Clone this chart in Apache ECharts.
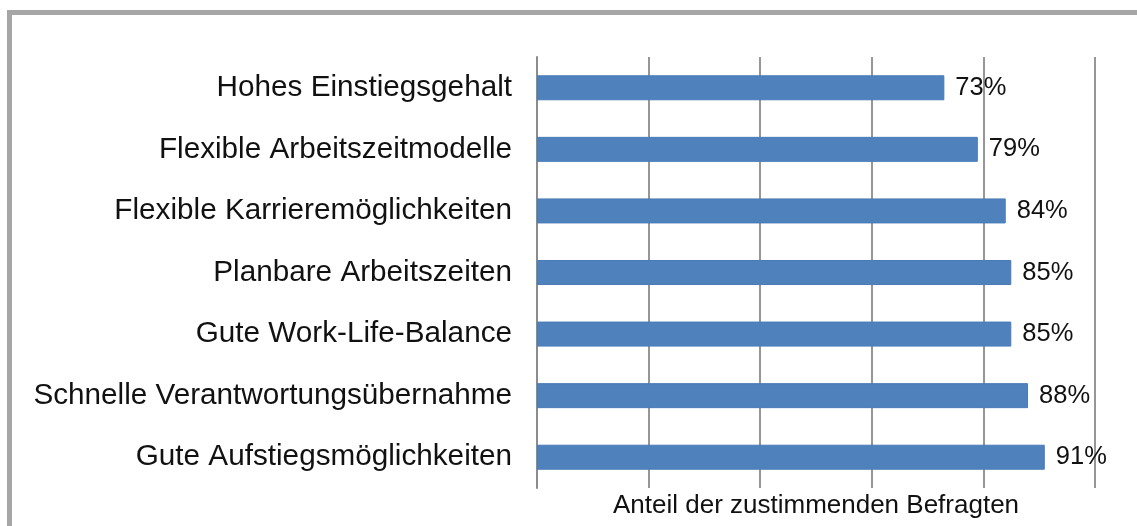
<!DOCTYPE html>
<html lang="de">
<head>
  <meta charset="UTF-8">
  <title>Anteil der zustimmenden Befragten</title>
  <style>
    html, body { margin: 0; padding: 0; background: #fff; }
  </style>
</head>
<body>
  <div id="main" style="width: 1137px;height:526px;"></div>

  <script src="https://cdn.jsdelivr.net/npm/echarts@6/dist/echarts.min.js"></script>
  <script>
    const categories = [
      'Hohes Einstiegsgehalt',
      'Flexible Arbeitszeitmodelle',
      'Flexible Karrieremöglichkeiten',
      'Planbare Arbeitszeiten',
      'Gute Work-Life-Balance',
      'Schnelle Verantwortungsübernahme',
      'Gute Aufstiegsmöglichkeiten'
    ];
    const values = [73, 79, 84, 85, 85, 88, 91];
    const axisName = 'Anteil der zustimmenden Befragten';

    const myChart = echarts.init(document.getElementById('main'));
    const font = "'Liberation Sans', Arial, sans-serif";

    const options = {
      animation: false,
      textStyle: { fontFamily: font },
      graphic: [{
        type: 'rect',
        shape: { x: 9.5, y: 12.5, width: 2000, height: 2000 },
        style: { fill: 'none', stroke: '#a6a6a6', lineWidth: 5 }
      }],
      grid: {
        left: 537,
        right: 42,
        top: 57,
        bottom: 38
      },
      xAxis: {
        type: 'value',
        min: 0,
        max: 100,
        interval: 20,
        name: axisName,
        nameLocation: 'middle',
        nameGap: 5,
        nameTextStyle: { fontSize: 26, color: '#111', fontFamily: font },
        axisLine: { show: false },
        axisTick: { show: false },
        axisLabel: { show: false },
        splitLine: { lineStyle: { color: '#969696', width: 2 } }
      },
      yAxis: {
        type: 'category',
        inverse: true,
        data: categories,
        axisLine: { lineStyle: { color: '#8c8c8c', width: 2 } },
        axisTick: { length: 8, lineStyle: { color: '#8c8c8c', width: 2 } },
        axisLabel: { fontSize: 29.7, color: '#111', margin: 25, fontFamily: font }
      },
      series: [{
        type: 'bar',
        data: values,
        barWidth: 25,
        itemStyle: { color: '#4f81bd', borderColor: '#4a7bb7', borderWidth: 1 },
        label: {
          show: true,
          position: 'right',
          distance: 11,
          formatter: '{c}%',
          fontSize: 25.5,
          color: '#111',
          fontFamily: font
        }
      }]
    };

    myChart.setOption(options);
  </script>
</body>
</html>
